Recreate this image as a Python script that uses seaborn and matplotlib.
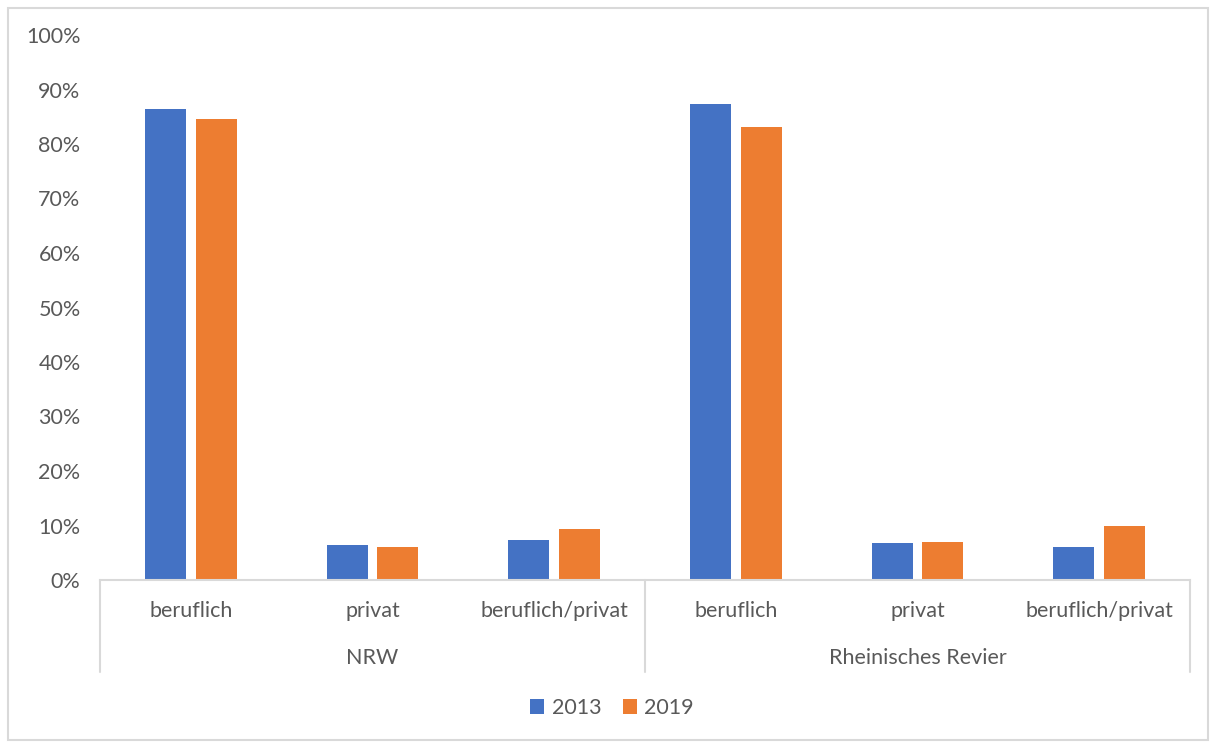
import pandas as pd
import matplotlib.pyplot as plt
import seaborn as sns
from matplotlib.patches import Rectangle
from matplotlib.ticker import PercentFormatter

regions = ["NRW", "Rheinisches Revier"]
purposes = ["beruflich", "privat", "beruflich/privat"]
years = ["2013", "2019"]
share_2013 = [0.864, 0.064, 0.073, 0.873, 0.067, 0.060]
share_2019 = [0.846, 0.060, 0.093, 0.831, 0.069, 0.099]

keys = [f"{r}|{p}" for r in regions for p in purposes]
df = pd.DataFrame({
    "key": keys * 2,
    "year": [years[0]] * 6 + [years[1]] * 6,
    "share": share_2013 + share_2019,
})

sns.set_style("white")
plt.rcParams["font.family"] = ["Lato", "DejaVu Sans"]
txt = "#595959"
line = "#D9D9D9"
fs = 15.5

fig = plt.figure(figsize=(12.16, 7.43), dpi=100)
ax = fig.add_axes([100 / 1216, 1 - 580 / 743, 1090 / 1216, 545 / 743])

sns.barplot(data=df, x="key", y="share", hue="year", order=keys,
            palette=["#4472C4", "#ED7D31"], saturation=1,
            width=0.556, gap=0.19, linewidth=0, ax=ax)

ax.set_ylim(0, 1)
ax.set_xlim(-0.5, 5.5)
ax.set_yticks([i / 10 for i in range(11)])
ax.yaxis.set_major_formatter(PercentFormatter(1.0, decimals=0))
ax.tick_params(axis="y", length=0, labelsize=fs, labelcolor=txt, pad=14)
ax.set_xticks(range(6))
ax.set_xticklabels([])
ax.tick_params(axis="x", length=0)
ax.set_xlabel("")
ax.set_ylabel("")
for s in ["top", "right", "left"]:
    ax.spines[s].set_visible(False)
ax.spines["bottom"].set_color(line)
ax.spines["bottom"].set_linewidth(1.5)

# two-level category axis
trans = ax.get_xaxis_transform()
for i, k in enumerate(keys):
    ax.text(i, -31 / 545, k.split("|")[1], transform=trans, ha="center",
            va="center", fontsize=fs, color=txt, clip_on=False)
for g, r in enumerate(regions):
    ax.text(g * 3 + 1, -78 / 545, r, transform=trans, ha="center",
            va="center", fontsize=fs, color=txt, clip_on=False)
for xs in [-0.5, 2.5, 5.5]:
    ax.plot([xs, xs], [0, -92 / 545], transform=trans, color=line,
            linewidth=1.5, clip_on=False)

leg = ax.legend(loc="center", bbox_to_anchor=(612 / 1216, 1 - 708 / 743),
                bbox_transform=fig.transFigure, ncol=2, frameon=False,
                fontsize=fs, handlelength=0.65, handleheight=0.65,
                handletextpad=0.35, columnspacing=1.0)
for t in leg.get_texts():
    t.set_color(txt)

fig.patches.append(Rectangle((8 / 1216, 3 / 743), 1200 / 1216, 732 / 743,
                             transform=fig.transFigure, fill=False,
                             edgecolor=line, linewidth=1.5))

fig.savefig("out.png", dpi=100)
